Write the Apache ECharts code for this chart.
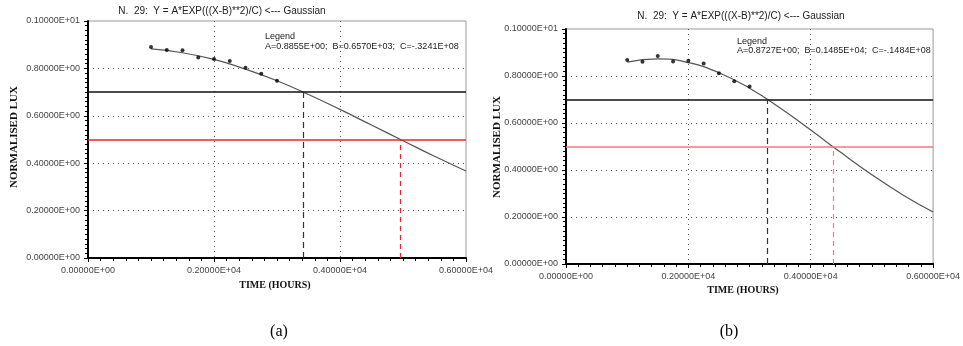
<!DOCTYPE html>
<html>
<head>
<meta charset="utf-8">
<script src="https://cdn.jsdelivr.net/npm/echarts@6/dist/echarts.min.js"></script>
<style>
html, body { margin: 0; padding: 0; background: #fff; }
#chart { width: 963px; height: 346px; }
</style>
</head>
<body>
<div id="chart"></div>
<script>
// fitted curve, every 500 h
var curveHours = [1000, 1500, 2000, 2500, 3000, 3500, 4000, 4500, 5000, 5500, 6000];
var curveA = [0.882, 0.866, 0.838, 0.797, 0.748, 0.690, 0.627, 0.561, 0.495, 0.429, 0.367];
var curveB = [0.859, 0.873, 0.857, 0.814, 0.748, 0.664, 0.570, 0.473, 0.380, 0.295, 0.221];

// measured points
var dotHours = [1000, 1250, 1500, 1750, 2000, 2250, 2500, 2750, 3000];
var dotsA = [0.890, 0.878, 0.877, 0.846, 0.840, 0.831, 0.803, 0.777, 0.748];
var dotsB = [0.868, 0.861, 0.885, 0.862, 0.865, 0.853, 0.812, 0.778, 0.755];

// threshold levels and where the curve crosses them
var levels = [0.7, 0.5];
var crossA = [3420, 4960];
var crossB = [3290, 4360];

var legendA = 'A=0.8855E+00;  B=0.6570E+03;  C=-.3241E+08';
var legendB = 'A=0.8727E+00;  B=0.1485E+04;  C=-.1484E+08';
var titleText = 'N.  29:  Y = A*EXP(((X-B)**2)/C) <--- Gaussian';

function fmtE(v) {
    if (Math.abs(v) < 1e-9) return '0.00000E+00';
    var e = Math.floor(Math.log10(v) + 1e-9) + 1;
    var m = v / Math.pow(10, e);
    return m.toFixed(5) + 'E+' + (e < 10 ? '0' + e : e);
}

function pairs(xs, ys) {
    return xs.map(function(x, i) { return [x, ys[i]]; });
}

var chart = echarts.init(document.getElementById('chart'));

var grids = [
    {left: 88, top: 21, width: 378, height: 237},
    {left: 566, top: 29, width: 371, height: 235}
];

function xAxisOf(i) {
    return {
        type: 'value', gridIndex: i, min: 0, max: 6000, interval: 2000,
        axisLine: {lineStyle: {color: '#000', width: 2}},
        axisTick: {length: 4, lineStyle: {color: '#000'}},
        minorTick: {show: true, splitNumber: 10, length: 3, lineStyle: {color: '#000'}},
        axisLabel: {formatter: fmtE, color: '#444', fontSize: 9, fontFamily: 'Liberation Sans', margin: 8},
        splitLine: {show: true, showMinLine: false, showMaxLine: false,
            lineStyle: {color: '#555', type: [1, 4], width: 1}}
    };
}

function yAxisOf(i) {
    return {
        type: 'value', gridIndex: i, min: 0, max: 1, interval: 0.2,
        axisLine: {show: true, lineStyle: {color: '#000', width: 2}},
        axisTick: {show: true, length: 4, lineStyle: {color: '#000'}},
        minorTick: {show: true, splitNumber: 10, length: 3, lineStyle: {color: '#000'}},
        axisLabel: {formatter: fmtE, color: '#444', fontSize: 9, fontFamily: 'Liberation Sans', margin: 8},
        splitLine: {show: true, showMinLine: false, showMaxLine: false,
            lineStyle: {color: '#555', type: [1, 4], width: 1}}
    };
}

function markLinesOf(cross, redColor) {
    return {
        silent: true, symbol: 'none', label: {show: false},
        data: [
            {yAxis: levels[0], lineStyle: {color: '#111', width: 1.5, type: 'solid'}},
            {yAxis: levels[1], lineStyle: {color: redColor, width: 1.5, type: 'solid'}},
            [{coord: [cross[0], 0], lineStyle: {color: '#333', width: 1.2, type: [6, 4]}}, {coord: [cross[0], levels[0]]}],
            [{coord: [cross[1], 0], lineStyle: {color: redColor, width: 1.2, type: [5, 4]}}, {coord: [cross[1], levels[1]]}]
        ]
    };
}

function seriesOf(i, curve, dots, cross, redColor) {
    return [{
        type: 'line', xAxisIndex: i, yAxisIndex: i,
        data: pairs(curveHours, curve), smooth: true, showSymbol: false,
        lineStyle: {color: '#555', width: 1.2}, z: 3,
        markLine: markLinesOf(cross, redColor)
    }, {
        type: 'scatter', xAxisIndex: i, yAxisIndex: i,
        data: pairs(dotHours, dots), symbolSize: 4,
        itemStyle: {color: '#000'}, z: 4
    }];
}

function txt(x, y, text, font, extra) {
    var el = {
        type: 'text', x: x, y: y,
        style: Object.assign({text: text, font: font, fill: '#222', align: 'center', verticalAlign: 'middle'}, extra || {})
    };
    return el;
}

var option = {
    animation: false,
    grid: grids.map(function(g) {
        return Object.assign({show: true, borderColor: '#999', borderWidth: 1, backgroundColor: 'transparent'}, g);
    }),
    xAxis: [xAxisOf(0), xAxisOf(1)],
    yAxis: [yAxisOf(0), yAxisOf(1)],
    series: seriesOf(0, curveA, dotsA, crossA, '#e8262b').concat(seriesOf(1, curveB, dotsB, crossB, '#f07a80')),
    graphic: [
        txt(222, 11, titleText, '10px "Liberation Sans"'),
        txt(741, 16, titleText, '10px "Liberation Sans"'),
        txt(265, 37, 'Legend', '9px "Liberation Sans"', {align: 'left'}),
        txt(265, 47, legendA, '9px "Liberation Sans"', {align: 'left'}),
        txt(737, 42, 'Legend', '9px "Liberation Sans"', {align: 'left'}),
        txt(737, 51, legendB, '9px "Liberation Sans"', {align: 'left'}),
        txt(275, 285, 'TIME (HOURS)', 'bold 10px "Liberation Serif"', {fill: '#111'}),
        txt(743, 290, 'TIME (HOURS)', 'bold 10px "Liberation Serif"', {fill: '#111'}),
        {type: 'text', x: 14, y: 137, rotation: Math.PI / 2,
            style: {text: 'NORMALISED LUX', font: 'bold 11px "Liberation Serif"', fill: '#111', align: 'center', verticalAlign: 'middle'}},
        {type: 'text', x: 497, y: 147, rotation: Math.PI / 2,
            style: {text: 'NORMALISED LUX', font: 'bold 11px "Liberation Serif"', fill: '#111', align: 'center', verticalAlign: 'middle'}},
        txt(279, 332, '(a)', '16px "Liberation Serif"', {fill: '#000'}),
        txt(729, 332, '(b)', '16px "Liberation Serif"', {fill: '#000'})
    ]
};
chart.setOption(option);
</script>
</body>
</html>
